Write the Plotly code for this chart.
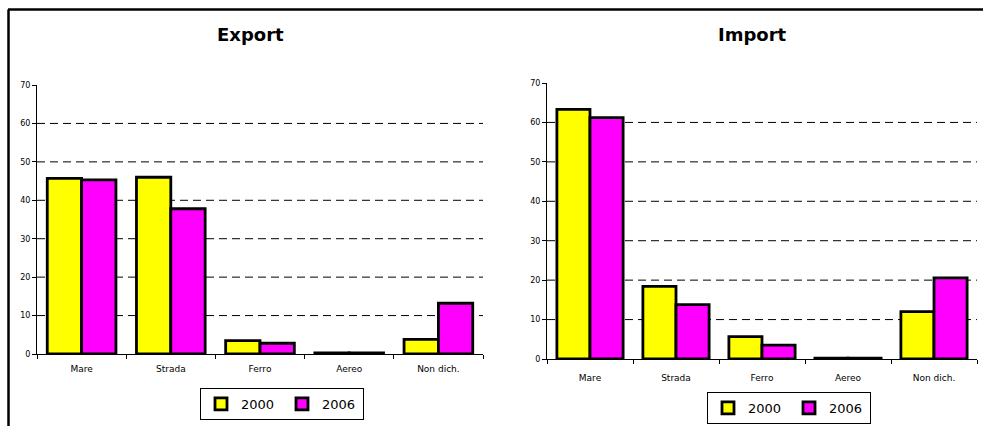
import plotly.graph_objects as go

categories = ["Mare", "Strada", "Ferro", "Aereo", "Non dich."]
export_2000 = [45.7, 46.0, 3.5, 0.3, 3.8]
export_2006 = [45.3, 37.8, 2.8, 0.3, 13.2]
import_2000 = [63.3, 18.4, 5.7, 0.2, 12.0]
import_2006 = [61.2, 13.8, 3.5, 0.2, 20.6]
series_names = ["2000", "2006"]
series_colors = ["#FFFF00", "#FF00FF"]
y_ticks = [0, 10, 20, 30, 40, 50, 60, 70]
grid_values = [10, 20, 30, 40, 50, 60]
titles = ["Export", "Import"]

W, H = 983, 426
FONT = "DejaVu Sans"

fig = go.Figure()

panels = [
    ("x", "y", [export_2000, export_2006], "legend"),
    ("x2", "y2", [import_2000, import_2006], "legend2"),
]
for xa, ya, vals, leg in panels:
    for name, col, v in zip(series_names, series_colors, vals):
        fig.add_trace(go.Bar(
            x=categories, y=v, name=name, xaxis=xa, yaxis=ya, legend=leg,
            marker=dict(color=col, line=dict(color="black", width=2.8)),
        ))

def px_x(p):
    return p / W

def px_y(p):
    return 1 - p / H

axis_common = dict(showline=True, linecolor="black", linewidth=1, ticks="outside",
                   tickcolor="black", ticklen=4, tickwidth=1, showgrid=False,
                   zeroline=False)
x_font = dict(family=FONT, size=9, color="black")
y_font = dict(family=FONT, size=8, color="black")

legend_common = dict(orientation="h", xanchor="left", yanchor="middle",
                     bordercolor="black", borderwidth=1, bgcolor="white",
                     font=dict(family=FONT, size=13, color="black"),
                     itemwidth=30, traceorder="normal", entrywidth=36,
                     tracegroupgap=0)

fig.update_layout(
    width=W, height=H, margin=dict(l=0, r=0, t=0, b=0, autoexpand=False),
    paper_bgcolor="white", plot_bgcolor="white",
    barmode="group", bargap=0.23, bargroupgap=0,
    showlegend=True,
    xaxis=dict(domain=[px_x(37), px_x(483)], anchor="y", type="category",
               range=[-0.5, 4.5], tickson="boundaries", ticklabelstandoff=6,
               tickfont=x_font, **axis_common),
    yaxis=dict(domain=[px_y(354), px_y(85)], anchor="x", range=[0, 70],
               tickvals=y_ticks, tickfont=y_font, **axis_common),
    xaxis2=dict(domain=[px_x(547), px_x(977)], anchor="y2", type="category",
                range=[-0.5, 4.5], tickson="boundaries", ticklabelstandoff=10,
                tickfont=x_font, **axis_common),
    yaxis2=dict(domain=[px_y(359), px_y(83)], anchor="x2", range=[0, 70],
                tickvals=y_ticks, tickfont=y_font, **axis_common),
    legend=dict(x=px_x(200), y=px_y(404), **legend_common),
    legend2=dict(x=px_x(707), y=px_y(408), **legend_common),
)

# dashed gridlines
for xr, yr in [("x", "y"), ("x2", "y2")]:
    for g in grid_values:
        fig.add_shape(type="line", xref=xr + " domain", yref=yr, x0=0, x1=1, y0=g, y1=g,
                      line=dict(color="black", width=1, dash="8px,5px"), layer="below")

# titles
for t, cx in zip(titles, [250, 752]):
    fig.add_annotation(text="<b>" + t + "</b>", x=px_x(cx), y=px_y(35), xref="paper", yref="paper",
                       showarrow=False, font=dict(family=FONT, size=18, color="black"),
                       xanchor="center", yanchor="middle")

# frame lines
fig.add_shape(type="line", xref="paper", yref="paper", x0=px_x(8), x1=1, y0=px_y(9.5), y1=px_y(9.5),
              line=dict(color="black", width=2.5))
fig.add_shape(type="line", xref="paper", yref="paper", x0=px_x(8.5), x1=px_x(8.5), y0=0, y1=px_y(9.5),
              line=dict(color="black", width=2.5))

fig.write_html("out.html")
